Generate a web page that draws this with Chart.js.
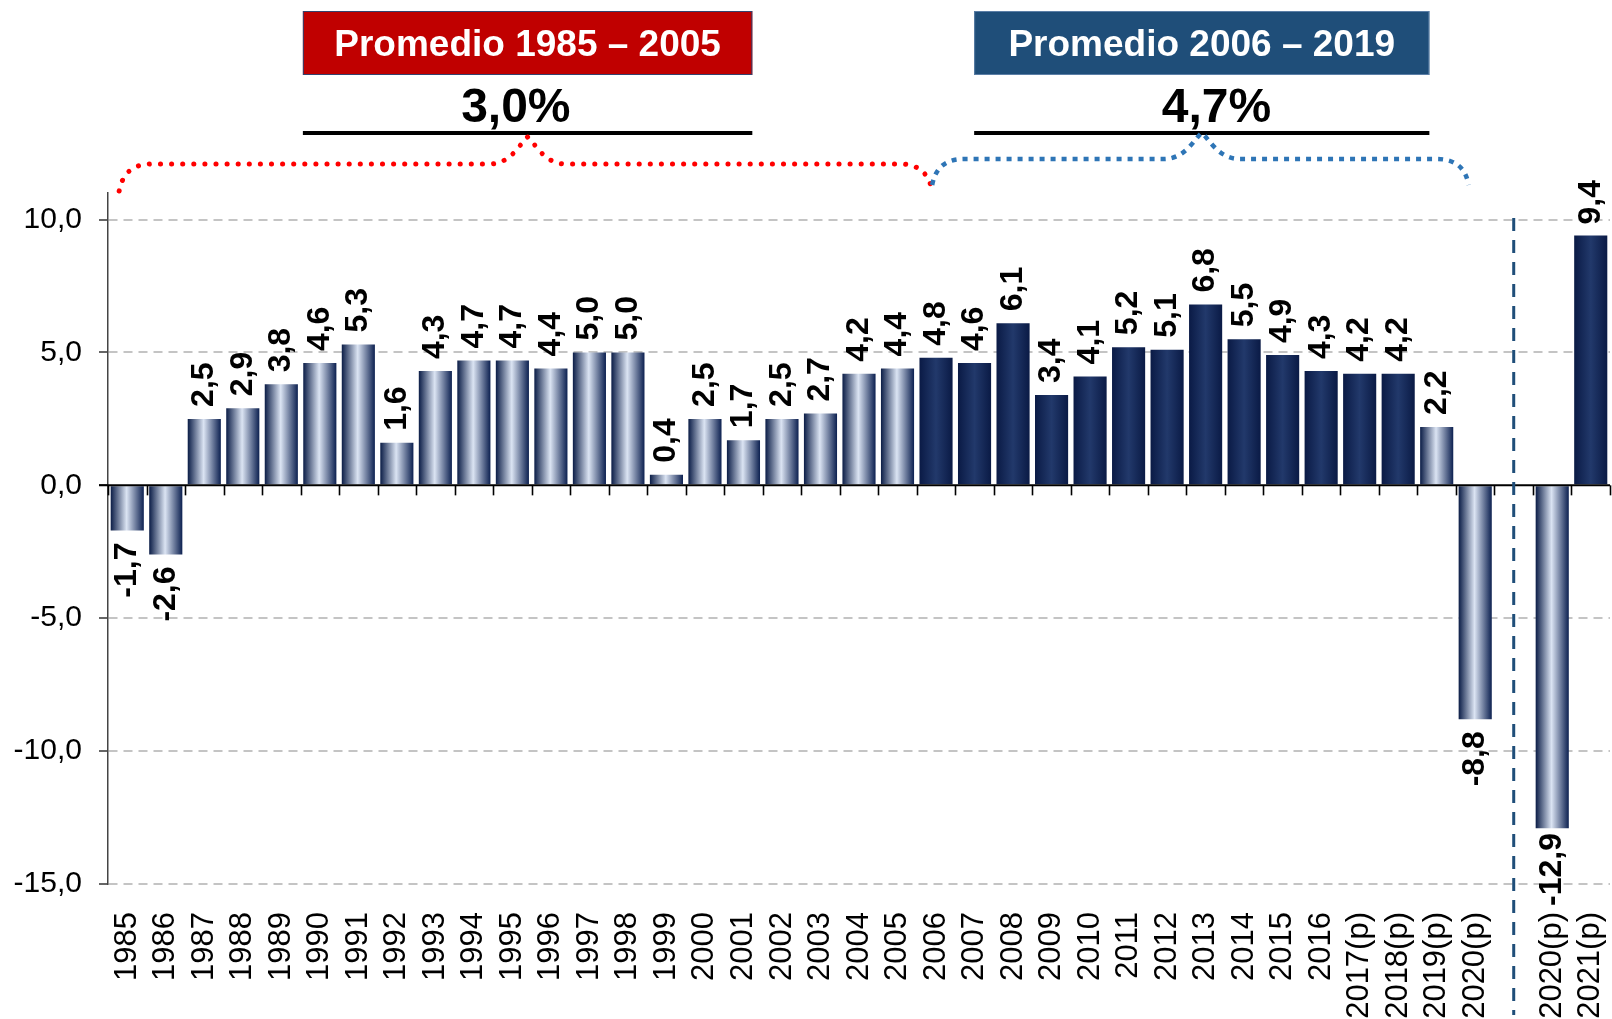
<!DOCTYPE html>
<html><head><meta charset="utf-8">
<script src="https://cdn.jsdelivr.net/npm/chart.js@4.4.1/dist/chart.umd.min.js"></script>
<style>html,body{margin:0;padding:0;background:#fff;}#wrap{width:1612px;height:1019px;position:relative;}</style>
</head><body><div id="wrap"><canvas id="c" width="1612" height="1019"></canvas></div>
<script>
// ---- DATA ----
const categorias = ['1985','1986','1987','1988','1989','1990','1991','1992','1993','1994','1995','1996','1997','1998','1999','2000','2001','2002','2003','2004','2005','2006','2007','2008','2009','2010','2011','2012','2013','2014','2015','2016','2017(p)','2018(p)','2019(p)','2020(p)','','2020(p)','2021(p)'];
const crecimiento = [-1.7,-2.6,2.5,2.9,3.8,4.6,5.3,1.6,4.3,4.7,4.7,4.4,5.0,5.0,0.4,2.5,1.7,2.5,2.7,4.2,4.4,4.8,4.6,6.1,3.4,4.1,5.2,5.1,6.8,5.5,4.9,4.3,4.2,4.2,2.2,-8.8,null,-12.9,9.4];
const ticksY = [-15,-10,-5,0,5,10];
const promedioTitulos = ['Promedio 1985 – 2005','Promedio 2006 – 2019'];
const promedioValores = ['3,0%','4,7%'];

// ---- STYLE ----
const FONT = '"Liberation Sans", Arial, Helvetica, sans-serif';
const BAR_PCT = 0.86;
const lightIdx = new Set();
for (let i = 0; i <= 20; i++) lightIdx.add(i);
[34,35,37].forEach(i => lightIdx.add(i));
const fmt = v => v.toFixed(1).replace('.', ',');

function barFill(c) {
  const chart = c.chart, xs = chart.scales.x;
  if (!chart.chartArea || !xs || c.type !== 'data') return '#0d2350';
  const cx = xs.getPixelForValue(c.dataIndex);
  const w = (xs.right - xs.left) / categorias.length * BAR_PCT;
  const g = chart.ctx.createLinearGradient(cx - w/2, 0, cx + w/2, 0);
  if (lightIdx.has(c.dataIndex)) {
    g.addColorStop(0, '#0a1c46');
    g.addColorStop(0.48, '#dbe4f3');
    g.addColorStop(1, '#0c2050');
  } else {
    g.addColorStop(0, '#0a1a45');
    g.addColorStop(0.5, '#22396b');
    g.addColorStop(1, '#0a1a45');
  }
  return g;
}

const labelsPlugin = {
  id: 'valores',
  afterDatasetsDraw(chart) {
    const ctx = chart.ctx, ca = chart.chartArea;
    const xs = chart.scales.x, ys = chart.scales.y;
    const slot = (xs.right - xs.left) / categorias.length;
    const y0 = ys.getPixelForValue(0);
    ctx.save();
    ctx.strokeStyle = '#000'; ctx.lineWidth = 2;
    ctx.beginPath(); ctx.moveTo(ca.left - 9, y0); ctx.lineTo(xs.right, y0); ctx.stroke();
    ctx.lineWidth = 1.6;
    for (let k = 0; k <= categorias.length; k++) {
      const x = Math.round(xs.left + k * slot) + 0.5;
      ctx.beginPath(); ctx.moveTo(x, y0); ctx.lineTo(x, y0 + 10); ctx.stroke();
    }
    ctx.restore();
    const meta = chart.getDatasetMeta(0);
    ctx.save();
    ctx.font = 'bold 32px ' + FONT;
    ctx.fillStyle = '#000';
    ctx.textBaseline = 'middle';
    const GAP = 12;
    meta.data.forEach((bar, i) => {
      const v = crecimiento[i];
      if (v === null || v === undefined) return;
      const txt = fmt(v);
      const w = ctx.measureText(txt).width;
      ctx.save();
      if (v >= 0) {
        ctx.translate(bar.x, Math.max(bar.y - GAP, 180 + w));
        ctx.rotate(-Math.PI/2);
        ctx.textAlign = 'left';
      } else {
        const y = Math.min(bar.y + GAP, ca.bottom + 22 - w);
        ctx.translate(bar.x, Math.max(y, bar.y + 4));
        ctx.rotate(-Math.PI/2);
        ctx.textAlign = 'right';
      }
      ctx.fillText(txt, 0, 0);
      ctx.restore();
    });
    ctx.restore();
  }
};

const annotPlugin = {
  id: 'anot',
  afterDraw(chart) {
    const ctx = chart.ctx;
    const xs = chart.scales.x;
    const slot = (xs.right - xs.left) / categorias.length;
    const sx = k => xs.left + k * slot;
    const xv = xs.getPixelForValue(36);
    ctx.save();
    ctx.strokeStyle = '#1f4e79'; ctx.lineWidth = 3; ctx.setLineDash([13, 9]);
    ctx.beginPath(); ctx.moveTo(xv, 218); ctx.lineTo(xv, 1015); ctx.stroke();
    ctx.restore();

    const boxes = [
      {x1: sx(5.06), x2: sx(16.73), vx: sx(10.59), fill: '#c00000', stroke: '#34426e'},
      {x1: sx(22.49), x2: sx(34.31), vx: sx(28.78), fill: '#1f4e79', stroke: '#5b7ea6'}
    ];
    boxes.forEach((b, i) => {
      ctx.save();
      ctx.fillStyle = b.fill;
      ctx.fillRect(b.x1, 11, b.x2 - b.x1, 64);
      ctx.strokeStyle = b.stroke; ctx.lineWidth = 1;
      ctx.strokeRect(b.x1 + 0.5, 11.5, b.x2 - b.x1 - 1, 63);
      const cx = (b.x1 + b.x2) / 2;
      ctx.fillStyle = '#fff';
      ctx.font = 'bold 37px ' + FONT;
      ctx.textAlign = 'center'; ctx.textBaseline = 'alphabetic';
      ctx.fillText(promedioTitulos[i], cx, 56);
      ctx.fillStyle = '#000';
      ctx.font = 'bold 48px ' + FONT;
      ctx.fillText(promedioValores[i], b.vx, 122);
      ctx.fillRect(b.x1, 131, b.x2 - b.x1, 4);
      ctx.restore();
    });

    function brace(x1, x2, xm, yTop, yEnd, yPeak) {
      ctx.beginPath();
      ctx.moveTo(x1, yEnd);
      ctx.bezierCurveTo(x1 + 3, yEnd - 16, x1 + 12, yTop, x1 + 32, yTop);
      ctx.lineTo(xm - 38, yTop);
      ctx.bezierCurveTo(xm - 16, yTop, xm - 7, yPeak + 5, xm, yPeak);
      ctx.bezierCurveTo(xm + 7, yPeak + 5, xm + 16, yTop, xm + 38, yTop);
      ctx.lineTo(x2 - 32, yTop);
      ctx.bezierCurveTo(x2 - 12, yTop, x2 - 3, yEnd - 16, x2, yEnd);
      ctx.stroke();
    }
    ctx.save();
    ctx.strokeStyle = '#ff0000'; ctx.lineWidth = 5; ctx.lineCap = 'round';
    ctx.setLineDash([0.1, 11]);
    brace(sx(0.29), sx(21.4), (boxes[0].x1 + boxes[0].x2) / 2, 164, 191, 137);
    ctx.restore();
    ctx.save();
    ctx.strokeStyle = '#2e75b6'; ctx.lineWidth = 4.5; ctx.lineCap = 'butt';
    ctx.setLineDash([5, 6]);
    brace(sx(21.4), sx(35.33), (boxes[1].x1 + boxes[1].x2) / 2, 159, 185, 133);
    ctx.restore();
  }
};

new Chart(document.getElementById('c'), {
  type: 'bar',
  data: {
    labels: categorias,
    datasets: [{
      data: crecimiento,
      backgroundColor: barFill,
      borderWidth: 0,
      barPercentage: BAR_PCT,
      categoryPercentage: 1.0
    }]
  },
  options: {
    responsive: false,
    animation: false,
    events: [],
    layout: {padding: {top: 193, right: 2, left: 0, bottom: 0}},
    plugins: {legend: {display: false}, tooltip: {enabled: false}},
    scales: {
      x: {
        offset: true,
        afterFit: s => { s.height = 135; s.paddingLeft = 0; s.paddingRight = 0; },
        grid: {display: false},
        border: {display: false},
        ticks: {autoSkip: false, maxRotation: 90, minRotation: 90, padding: 20, color: '#000', font: {family: FONT, size: 31}}
      },
      y: {
        min: -15, max: 11,
        afterBuildTicks: s => { s.ticks = ticksY.map(v => ({value: v})); },
        afterFit: s => { s.width = 108; s.paddingTop = 0; s.paddingBottom = 0; },
        ticks: {color: '#000', padding: 17, font: {family: FONT, size: 30}, callback: v => fmt(v)},
        grid: {
          color: c => (c.tick && c.tick.value === 0) ? 'rgba(0,0,0,0)' : '#c4c4c4',
          lineWidth: 2, drawTicks: true, tickLength: 9, tickColor: '#333', tickWidth: 1.5
        },
        border: {display: true, color: '#444', width: 1.5, dash: [9, 6]}
      }
    }
  },
  plugins: [labelsPlugin, annotPlugin]
});
</script></body></html>
